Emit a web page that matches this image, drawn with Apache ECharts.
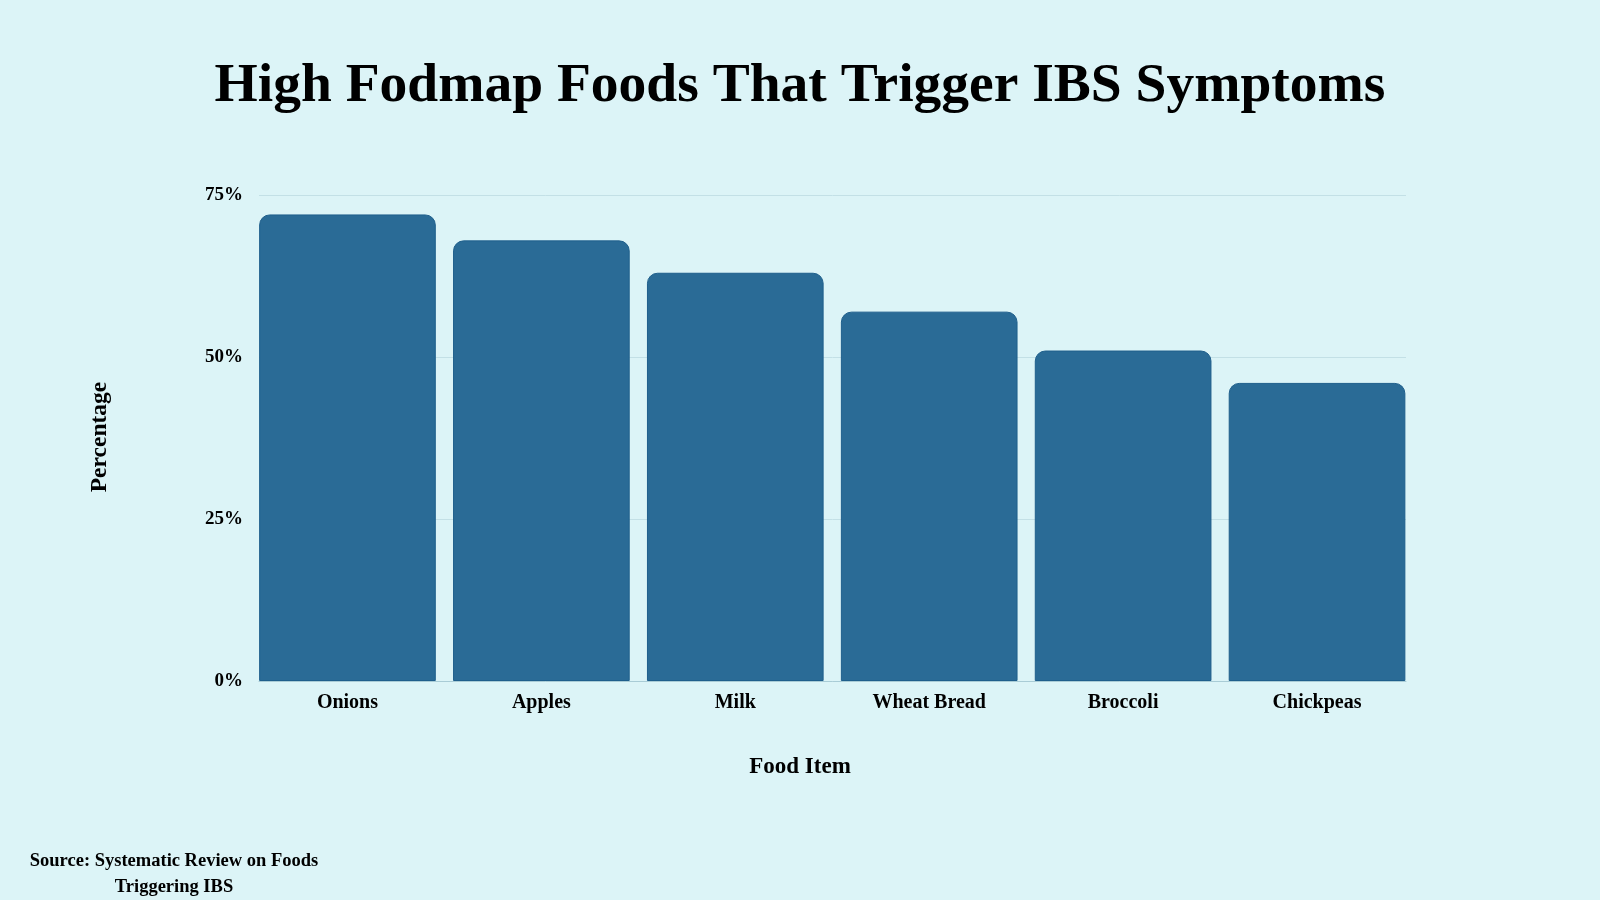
<!DOCTYPE html>
<html>
<head>
<meta charset="utf-8">
<script src="https://cdn.jsdelivr.net/npm/echarts@6/dist/echarts.min.js"></script>
<style>
  html, body { margin: 0; padding: 0; background: #dcf4f7; }
  #chart { width: 1600px; height: 900px; }
</style>
</head>
<body>
<div id="chart"></div>
<script>
const foods = ['Onions', 'Apples', 'Milk', 'Wheat Bread', 'Broccoli', 'Chickpeas'];
const percentages = [72, 68, 63, 57, 51, 46];
const yTicks = [0, 25, 50, 75];

const serif = '"Liberation Serif", "Times New Roman", serif';
const yMin = yTicks[0];
const yMax = yTicks[yTicks.length - 1];

let chart = echarts.init(document.getElementById('chart'));
let option = {
  backgroundColor: '#dcf4f7',
  title: {
    text: 'High Fodmap Foods That Trigger IBS Symptoms',
    left: 'center',
    top: 54,
    textStyle: {
      fontFamily: serif,
      fontSize: 55.5,
      fontWeight: 'bold',
      color: '#000'
    }
  },
  // grid 0: bars (slightly wider so outer bars touch the line grid edges)
  // grid 1: split lines, axis line and tick labels
  grid: [
    { left: 250.5, right: 186, top: 195, bottom: 219 },
    { left: 259, right: 194, top: 195, bottom: 219 }
  ],
  xAxis: [{
    type: 'category',
    gridIndex: 0,
    data: foods,
    axisLine: { show: false },
    axisTick: { show: false },
    axisLabel: {
      fontFamily: serif,
      fontSize: 20,
      fontWeight: 'bold',
      color: '#000',
      margin: 12
    }
  }, {
    type: 'value',
    gridIndex: 1,
    min: 0,
    max: 1,
    axisLine: { show: true, onZero: false, lineStyle: { color: '#a9ccd6', width: 1 } },
    axisTick: { show: false },
    axisLabel: { show: false },
    splitLine: { show: false },
    z: 3
  }],
  yAxis: [{
    type: 'value',
    gridIndex: 0,
    min: yMin,
    max: yMax,
    interval: 25,
    axisLine: { show: false },
    axisTick: { show: false },
    axisLabel: { show: false },
    splitLine: { show: false }
  }, {
    type: 'value',
    gridIndex: 1,
    min: yMin,
    max: yMax,
    interval: 25,
    axisLine: { show: false },
    axisTick: { show: false },
    splitLine: { lineStyle: { color: '#c3e0e6', width: 1 } },
    axisLabel: {
      formatter: '{value}%',
      fontFamily: serif,
      fontSize: 19,
      fontWeight: 'bold',
      color: '#000',
      margin: 16
    }
  }],
  series: [{
    type: 'bar',
    xAxisIndex: 0,
    yAxisIndex: 0,
    data: percentages,
    barCategoryGap: '8.9%',
    itemStyle: {
      color: '#2a6b96',
      borderColor: '#1f5f8c',
      borderWidth: 1,
      borderRadius: [10, 10, 0, 0]
    },
    label: { show: false },
    z: 2
  }],
  graphic: [{
    type: 'text',
    x: 800,
    y: 767,
    style: {
      text: 'Food Item',
      textAlign: 'center',
      textVerticalAlign: 'middle',
      fontFamily: serif,
      fontSize: 23,
      fontWeight: 'bold',
      fill: '#000'
    }
  }, {
    type: 'text',
    x: 100,
    y: 437,
    rotation: Math.PI / 2,
    style: {
      text: 'Percentage',
      textAlign: 'center',
      textVerticalAlign: 'middle',
      fontFamily: serif,
      fontSize: 23.5,
      fontWeight: 'bold',
      fill: '#000'
    }
  }, {
    type: 'text',
    x: 174,
    y: 874,
    style: {
      text: 'Source: Systematic Review on Foods\nTriggering IBS',
      textAlign: 'center',
      textVerticalAlign: 'middle',
      fontFamily: serif,
      fontSize: 18.5,
      fontWeight: 'bold',
      lineHeight: 26,
      fill: '#000'
    }
  }]
};
chart.setOption(option);
</script>
</body>
</html>
